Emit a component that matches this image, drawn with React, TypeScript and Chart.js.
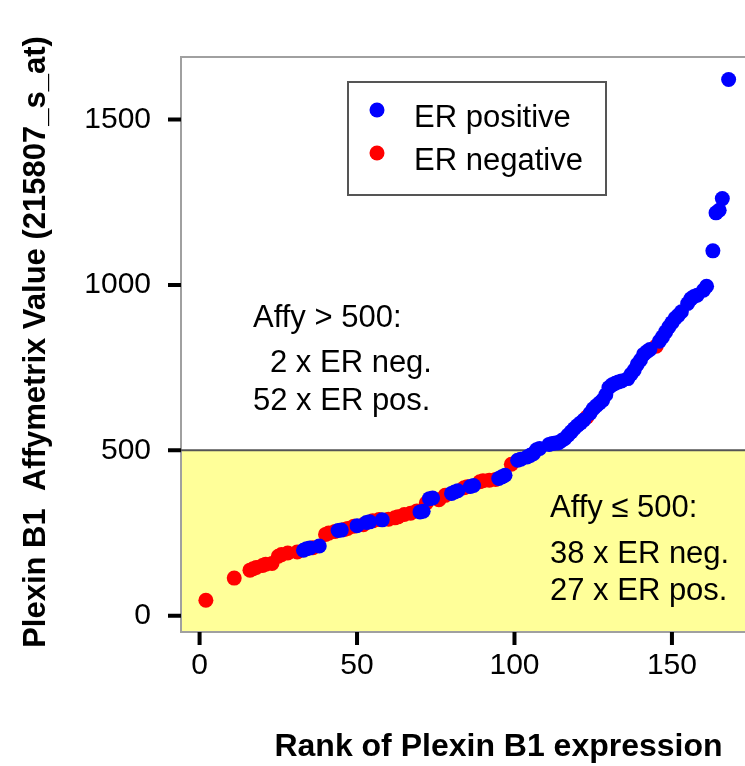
import { useEffect, useRef } from "react";
import { Chart, registerables } from "chart.js";

Chart.register(...registerables);

// ---- data ----
const erNegRank = [2, 11, 16, 17, 18, 20, 21, 23, 25, 26, 28, 31, 36, 40, 41, 43, 46, 47, 49, 52, 55, 57, 60, 62, 63, 65, 67, 69, 72, 76, 78, 84, 85, 89, 90, 92, 94, 99, 123, 145];
const erNegValue = [47, 114, 138, 142, 146, 152, 156, 158, 180, 185, 190, 193, 206, 246, 250, 255, 261, 264, 271, 275, 287, 291, 292, 296, 299, 306, 310, 317, 341, 351, 364, 387, 390, 405, 408, 410, 412, 458, 601, 815];

const erPosRank = [33, 34, 35, 38, 44, 45, 50, 53, 54, 58, 70, 71, 73, 74, 80, 81, 82, 86, 87, 95, 96, 97, 101, 102, 104, 105, 106, 107, 108, 111, 112, 113, 114, 115, 116, 117, 118, 119, 120, 121, 122, 124, 125, 126, 127, 128, 129, 130, 131, 132, 133, 134, 136, 137, 138, 139, 140, 141, 142, 143, 146, 147, 148, 149, 150, 151, 152, 153, 155, 156, 157, 158, 160, 161, 163, 164, 165, 166, 168];
const erPosValue = [198, 203, 205, 211, 258, 259, 272, 282, 284, 290, 314, 316, 354, 356, 370, 374, 378, 391, 394, 415, 420, 425, 470, 473, 480, 485, 490, 502, 506, 518, 521, 522, 523, 530, 536, 546, 556, 566, 575, 583, 592, 612, 626, 635, 643, 652, 668, 690, 698, 703, 707, 710, 717, 730, 742, 760, 773, 790, 798, 805, 830, 843, 858, 873, 886, 899, 908, 919, 944, 958, 965, 969, 984, 996, 1103, 1218, 1226, 1261, 1621];

const xTicks = [0, 50, 100, 150];
const yTicks = [0, 500, 1000, 1500];
const threshold = 500;
const legendLabels = ["ER positive", "ER negative"];
const noteAbove = ["Affy > 500:", "2 x ER neg.", "52 x ER pos."];
const noteBelow = ["Affy \u2264 500:", "38 x ER neg.", "27 x ER pos."];
const xTitle = "Rank of Plexin B1 expression";
const yTitle = "Plexin B1  Affymetrix Value (215807_s_at)";

const FONT = "'Liberation Sans', Arial, Helvetica, sans-serif";
const BLUE = "#0000FF";
const RED = "#FF0000";

const decor = {
  id: "decor",
  beforeDatasetsDraw(chart: any) {
    const { ctx, chartArea: a, scales } = chart;
    const yT = scales.y.getPixelForValue(threshold);
    ctx.save();
    ctx.fillStyle = "#FFFF99";
    ctx.fillRect(a.left, yT, a.right - a.left, a.bottom - yT);
    // frame
    ctx.strokeStyle = "#A0A0A0";
    ctx.lineWidth = 2;
    ctx.beginPath();
    ctx.moveTo(a.right + 5, a.top);
    ctx.lineTo(a.left, a.top);
    ctx.lineTo(a.left, a.bottom);
    ctx.lineTo(a.right + 5, a.bottom);
    ctx.stroke();
    // threshold line
    ctx.strokeStyle = "#555555";
    ctx.lineWidth = 2;
    ctx.beginPath();
    ctx.moveTo(a.left, yT);
    ctx.lineTo(a.right, yT);
    ctx.stroke();
    // annotations
    ctx.fillStyle = "#000";
    ctx.font = `31px ${FONT}`;
    ctx.textAlign = "left";
    ctx.textBaseline = "alphabetic";
    ctx.fillText(noteAbove[0], 253, 327);
    ctx.fillText(noteAbove[1], 270, 372);
    ctx.fillText(noteAbove[2], 253, 410);
    ctx.fillText(noteBelow[0], 550, 517);
    ctx.fillText(noteBelow[1], 550, 563);
    ctx.fillText(noteBelow[2], 550, 600);
    ctx.restore();
  },
  afterDraw(chart: any) {
    const { ctx, chartArea: a, scales } = chart;
    ctx.save();
    // tick marks
    ctx.strokeStyle = "#000";
    ctx.lineWidth = 4;
    ctx.beginPath();
    for (const v of yTicks) {
      const py = scales.y.getPixelForValue(v);
      ctx.moveTo(a.left - 13, py);
      ctx.lineTo(a.left, py);
    }
    for (const v of xTicks) {
      const px = scales.x.getPixelForValue(v);
      ctx.moveTo(px, a.bottom);
      ctx.lineTo(px, a.bottom + 13);
    }
    ctx.stroke();
    // axis titles
    ctx.fillStyle = "#000";
    ctx.font = `bold 32px ${FONT}`;
    ctx.textAlign = "center";
    ctx.textBaseline = "alphabetic";
    ctx.fillText(xTitle, 498.5, 756);
    ctx.font = `bold 31px ${FONT}`;
    ctx.translate(45, 342);
    ctx.rotate(-Math.PI / 2);
    ctx.fillText(yTitle, 0, 0);
    ctx.setTransform(1, 0, 0, 1, 0, 0);
    // legend
    ctx.strokeStyle = "#555555";
    ctx.lineWidth = 2;
    ctx.strokeRect(348, 82, 258, 113);
    ctx.fillStyle = BLUE;
    ctx.beginPath();
    ctx.arc(377, 110, 7.5, 0, Math.PI * 2);
    ctx.fill();
    ctx.fillStyle = RED;
    ctx.beginPath();
    ctx.arc(377, 153, 7.5, 0, Math.PI * 2);
    ctx.fill();
    ctx.fillStyle = "#000";
    ctx.font = `31px ${FONT}`;
    ctx.textAlign = "left";
    ctx.fillText(legendLabels[0], 414, 127);
    ctx.fillText(legendLabels[1], 414, 170);
    ctx.restore();
  },
};

export default function App() {
  const ref = useRef<HTMLCanvasElement>(null);
  useEffect(() => {
    const canvas = ref.current!;
    const chart = new Chart(canvas, {
      type: "scatter",
      data: {
        datasets: [
          {
            label: legendLabels[0],
            data: erPosRank.map((x, i) => ({ x, y: erPosValue[i] })),
            backgroundColor: BLUE,
            borderWidth: 0,
            pointRadius: 7.5,
            pointHoverRadius: 7.5,
          },
          {
            label: legendLabels[1],
            data: erNegRank.map((x, i) => ({ x, y: erNegValue[i] })),
            backgroundColor: RED,
            borderWidth: 0,
            pointRadius: 7.5,
            pointHoverRadius: 7.5,
          },
        ],
      },
      options: {
        animation: false,
        responsive: false,
        devicePixelRatio: 1,
        events: [],
        layout: { autoPadding: false, padding: { top: 57, left: 0, right: 0, bottom: 0 } },
        plugins: { legend: { display: false }, tooltip: { enabled: false } },
        scales: {
          x: {
            type: "linear",
            min: -5.9,
            max: 173.2,
            afterFit: (s: any) => {
              s.height = 134;
              s.paddingLeft = 0;
              s.paddingRight = 0;
            },
            afterBuildTicks: (s: any) => {
              s.ticks = xTicks.map((v) => ({ value: v }));
            },
            grid: { display: false, drawTicks: false },
            border: { display: false },
            ticks: {
              padding: 16,
              color: "#000",
              maxRotation: 0,
              autoSkip: false,
              font: { family: FONT, size: 30 },
              callback: (v: any) => String(v),
            },
          },
          y: {
            type: "linear",
            min: -49,
            max: 1689,
            afterFit: (s: any) => {
              s.width = 181;
              s.paddingTop = 0;
              s.paddingBottom = 0;
            },
            afterBuildTicks: (s: any) => {
              s.ticks = yTicks.map((v) => ({ value: v }));
            },
            grid: { display: false, drawTicks: false },
            border: { display: false },
            ticks: {
              padding: 30,
              color: "#000",
              autoSkip: false,
              font: { family: FONT, size: 30 },
              callback: (v: any) => String(v),
            },
          },
        },
      },
      plugins: [decor],
    });
    return () => chart.destroy();
  }, []);
  return (
    <div style={{ position: "absolute", left: 0, top: 0, width: 745, height: 766 }}>
      <canvas ref={ref} width={745} height={766} style={{ display: "block", width: 745, height: 766 }} />
    </div>
  );
}
